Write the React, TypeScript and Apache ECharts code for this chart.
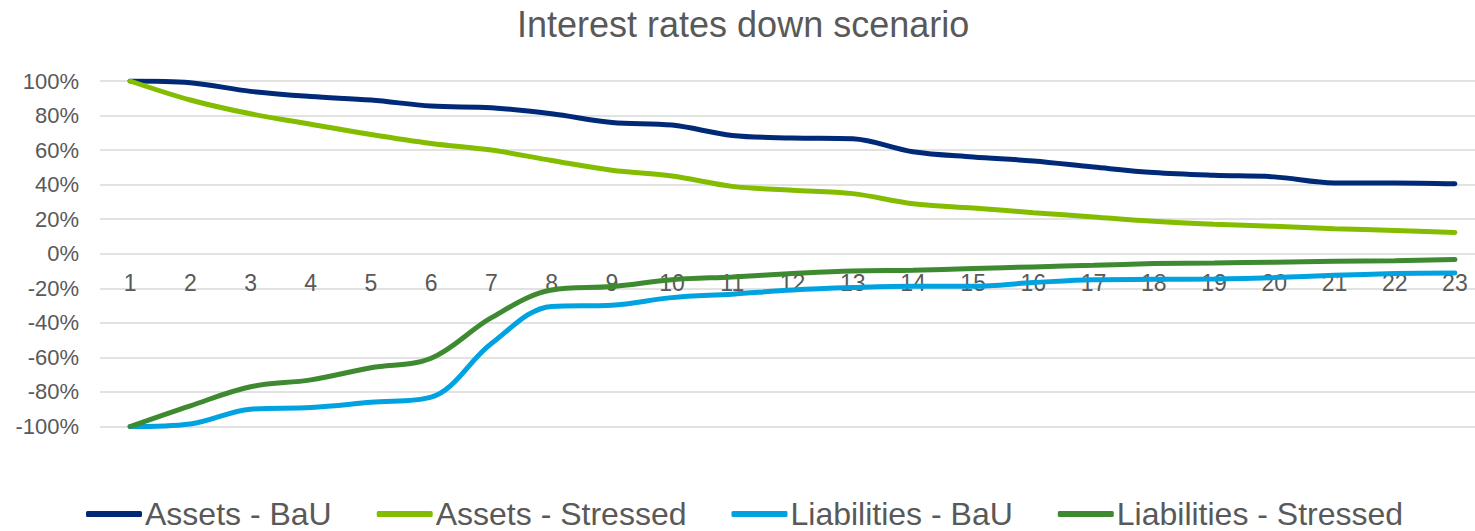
import React, { useEffect, useRef } from "react";
import * as echarts from "echarts";

const categories = ["1","2","3","4","5","6","7","8","9","10","11","12","13","14","15","16","17","18","19","20","21","22","23"];
const assetsBau = [100, 99, 94, 91, 89, 85.5, 84.5, 81, 76, 74.5, 68.5, 67, 66.5, 59, 56, 53.7, 50.2, 47, 45.4, 44.5, 41, 41, 40.5];
const assetsStressed = [100, 89, 81, 75, 69, 63.8, 60, 54, 48.3, 45, 39, 36.8, 34.8, 29, 26.5, 23.8, 21.3, 18.8, 17.1, 15.9, 14.5, 13.5, 12.3];
const liabilitiesBau = [-100, -98.5, -90, -89, -86, -83, -52, -30.5, -29.8, -25.4, -23.4, -21, -19.6, -18.8, -18.8, -16.7, -15, -14.8, -14.6, -13.8, -12.5, -11.5, -11.1];
const liabilitiesStressed = [-100, -88, -77, -73, -66, -60.5, -37, -21, -19, -15, -13.4, -11.5, -10, -9.6, -8.6, -7.6, -6.7, -5.7, -5.3, -4.9, -4.3, -4, -3.4];
const seriesNames = ["Assets - BaU", "Assets - Stressed", "Liabilities - BaU", "Liabilities - Stressed"];
const seriesColors = ["#002A78", "#84BD00", "#00A3E0", "#3E8A30"];

export default function App() {
  const ref = useRef<HTMLDivElement>(null);
  useEffect(() => {
    if (!ref.current) return;
    const chart = echarts.init(ref.current, undefined, { renderer: "svg" });
    const data = [assetsBau, assetsStressed, liabilitiesBau, liabilitiesStressed];
    const font = "Arial, 'Liberation Sans', sans-serif";
    chart.setOption({
      animation: false,
      color: seriesColors,
      title: {
        text: "Interest rates down scenario",
        left: 512,
        top: 1,
        textStyle: { fontFamily: font, fontSize: 36, fontWeight: "normal", color: "#595959" },
      },
      legend: {
        left: 81,
        top: 493,
        itemWidth: 56,
        itemHeight: 6,
        itemGap: 45,
        icon: "roundRect",
        textStyle: { fontFamily: font, fontSize: 32, color: "#595959", padding: [0, 0, 0, -2] },
        data: seriesNames,
      },
      grid: { left: 100, top: 81, width: 1385, height: 345.5, containLabel: false },
      xAxis: {
        type: "category",
        data: categories,
        boundaryGap: true,
        offset: -173,
        axisLine: { show: false, onZero: false },
        axisTick: { show: false },
        axisLabel: { fontFamily: font, fontSize: 23, color: "#595959", margin: 18 },
        splitLine: { show: false },
      },
      yAxis: {
        type: "value",
        min: -100,
        max: 100,
        interval: 20,
        axisLine: { show: false },
        axisTick: { show: false },
        axisLabel: { fontFamily: font, fontSize: 22, color: "#595959", margin: 21, formatter: (v: number) => `${v}%` },
        splitLine: { lineStyle: { color: "#d9d9d9", width: 1.5 } },
      },
      series: seriesNames.map((name, i) => ({
        name,
        type: "line",
        data: data[i],
        smooth: 0.35,
        symbol: "none",
        lineStyle: { width: 5, color: seriesColors[i], cap: "round" },
        itemStyle: { color: seriesColors[i] },
        z: 3,
      })),
    });
    return () => chart.dispose();
  }, []);
  return (
    <div style={{ position: "absolute", left: 0, top: 0, width: 1475, height: 531, overflow: "hidden" }}>
      <div ref={ref} style={{ position: "absolute", left: 0, top: 0, width: 1490, height: 531 }} />
    </div>
  );
}
